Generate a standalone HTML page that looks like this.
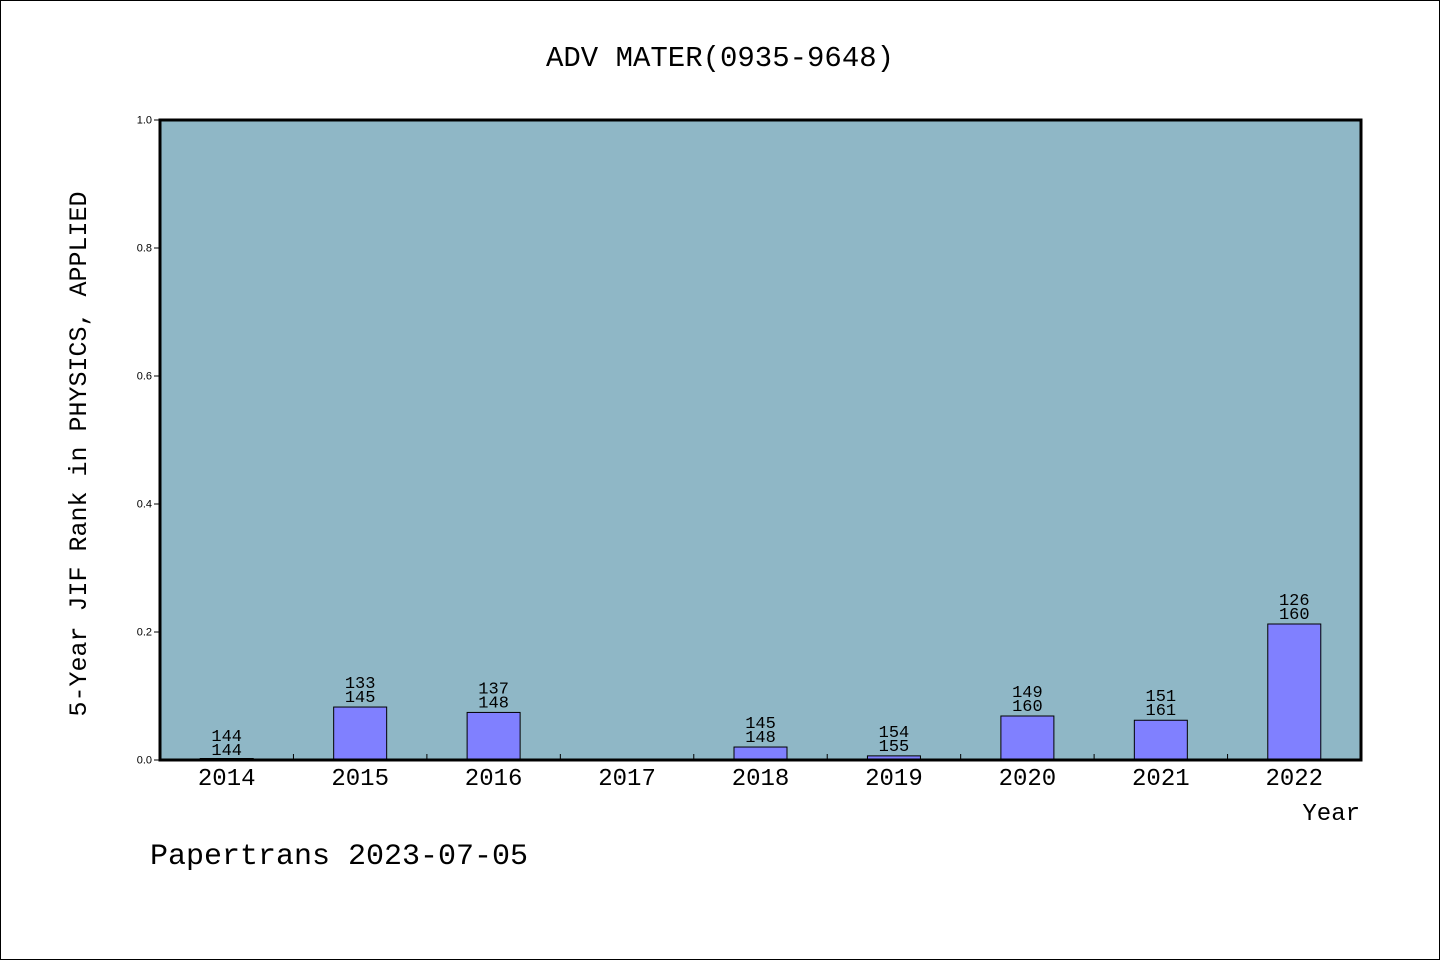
<!DOCTYPE html>
<html><head><meta charset="utf-8"><style>
body{margin:0;background:#fff}
#wrap{position:relative;width:1440px;height:960px;box-sizing:border-box;border:1px solid #000;overflow:hidden}
text{font-family:"Liberation Mono","WenQuanYi Zen Hei",monospace}
</style></head><body>
<div id="wrap">
<svg id="svg" width="1440" height="960" style="position:absolute;left:-1px;top:-1px"></svg>
</div>
<script>
const years=["2014","2015","2016","2017","2018","2019","2020","2021","2022"];
const ranks=[144,133,137,null,145,154,149,151,126];
const totals=[144,145,148,null,148,155,160,161,160];
const yTicks=[0,0.2,0.4,0.6,0.8,1.0];
const NS="http://www.w3.org/2000/svg";
const svg=document.getElementById('svg');
const L=160,R=1361,T=120,B=760;
const bw=(R-L)/years.length;
const xC=i=>L+bw*(i+0.5);
const yS=v=>B-(B-T)*v;
function mk(tag,a,txt){const e=document.createElementNS(NS,tag);for(const k in a)e.setAttribute(k,a[k]);if(txt!==undefined)e.textContent=txt;svg.appendChild(e);return e;}
let e;
e=mk('rect',{x:L,y:T,width:R-L,height:B-T,fill:'#8fb7c6'});

e=mk('text',{x:720,y:66,'text-anchor':'middle','font-size':29},'ADV MATER(0935-9648)');

e=mk('text',{x:0,y:0,'text-anchor':'middle','font-size':25,transform:'translate(86,454) rotate(-90)'},'5-Year JIF Rank in PHYSICS, APPLIED');

e=mk('text',{x:1360,y:820,'text-anchor':'end','font-size':24},'Year');

e=mk('text',{x:150,y:864,'font-size':30},'Papertrans 2023-07-05');

yTicks.forEach(v=>{
  const y=yS(v);
  e=mk('line',{x1:L-6,x2:L,y1:y,y2:y,stroke:'#000','stroke-width':1});
  
  e=mk('text',{x:L-8,y:y+3.5,'text-anchor':'end','font-size':11,style:'font-family:"Liberation Sans",sans-serif'},v.toFixed(1));
  
});
years.forEach((yr,i)=>{
  if(i>0){e=mk('line',{x1:L+bw*i,x2:L+bw*i,y1:B,y2:B-6,stroke:'#000','stroke-width':1});
  }
  e=mk('text',{x:xC(i),y:785,'text-anchor':'middle','font-size':24},yr);
  
  if(ranks[i]==null)return;
  const v=(totals[i]-ranks[i])/totals[i];
  const top=yS(v);
  const h=Math.max(B-top,1.5);
  e=mk('rect',{x:xC(i)-26.5,y:B-h,width:53,height:h,fill:'#8080ff',stroke:'#000','stroke-width':1});
  
  e=mk('text',{x:xC(i),y:top-19,'text-anchor':'middle','font-size':17},String(ranks[i]));
  
  e=mk('text',{x:xC(i),y:top-5,'text-anchor':'middle','font-size':17},String(totals[i]));
  
});
e=mk('rect',{x:L,y:T,width:R-L,height:B-T,fill:'none',stroke:'#000','stroke-width':3});

</script>
</body></html>
